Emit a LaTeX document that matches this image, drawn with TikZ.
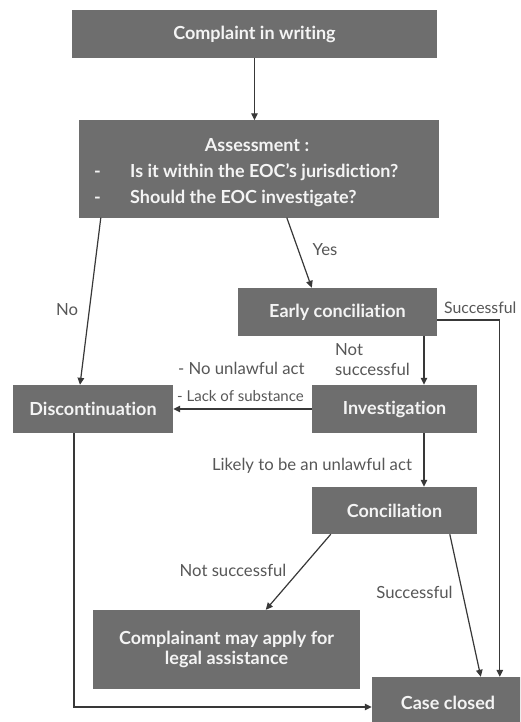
\documentclass[tikz,border=0pt]{standalone}
\usepackage{fontspec}
\setmainfont{Lato}[Ligatures=NoCommon]
\usetikzlibrary{arrows.meta,calc}
\definecolor{boxgray}{HTML}{6E6E6E}
\definecolor{labelgray}{HTML}{575757}
\definecolor{linegray}{HTML}{383838}
\definecolor{boxtext}{HTML}{F4F4F4}
\begin{document}
\begin{tikzpicture}[x=1pt,y=-1pt,
  box/.style={fill=boxgray, draw=none, text=boxtext, font=\bfseries\fontsize{18}{20}\selectfont, inner sep=0pt, align=center},
  boxtxt/.style={text=boxtext, font=\bfseries\fontsize{18}{20}\selectfont, inner sep=0pt},
  lbl/.style={text=labelgray, font=\fontsize{16.7}{20}\selectfont, inner sep=0pt},
  arr/.style={draw=linegray, line width=1.2pt, -{Triangle[length=7pt,width=6.5pt]}}]
\clip (0,0) rectangle (520,722);
\fill[white] (0,0) rectangle (520,722);

% boxes
\node[box, minimum width=365pt, minimum height=48pt] (complaint) at (254.5,34) {Complaint in writing};
\node[box, minimum width=360pt, minimum height=97pt] (assess) at (259,169) {};
\node[boxtxt] (assesstitle) at (257,145) {Assessment :};
\node[boxtxt, anchor=west, align=left] (assesslist) at (94,185) {\def\arraystretch{1.3}\begin{tabular}{@{}p{36pt}@{}l@{}}-&Is it within the EOC’s jurisdiction?\\-&Should the EOC investigate?\end{tabular}};
\node[box, minimum width=199pt, minimum height=48pt] (early) at (337.5,312) {Early conciliation};
\node[box, minimum width=165pt, minimum height=48pt] (inv) at (394.5,409) {Investigation};
\node[box, minimum width=160pt, minimum height=48pt] (disc) at (93,409) {Discontinuation};
\node[box, minimum width=165pt, minimum height=47pt] (conc) at (394.5,510.5) {Conciliation};
\node[box, minimum width=267pt, minimum height=79pt] (compl) at (226.5,649.5) {Complainant may apply for\\legal assistance};
\node[box, minimum width=152pt, minimum height=52pt] (closed) at (448,703) {Case closed};

% labels
\node[lbl] (lno) at (67,310) {No};
\node[lbl] (lyes) at (325,250) {Yes};
\node[lbl, anchor=west, font=\fontsize{15.8}{20}\selectfont] (lsucc1) at (444,308) {Successful};
\node[lbl, anchor=west, align=left] (lnotsucc1) at (335,360) {Not\\successful};
\node[lbl, anchor=west] (lnounl) at (178,368) {- No unlawful act};
\node[lbl, anchor=west, font=\fontsize{15}{20}\selectfont] (llack) at (177,396) {- Lack of substance};
\node[lbl] (llikely) at (312,466) {Likely to be an unlawful act};
\node[lbl] (lnotsucc2) at (233,570) {Not successful};
\node[lbl] (lsucc2) at (414.5,592) {Successful};

% connectors
\draw[arr] (complaint.south) -- (complaint.south |- assess.north);
\draw[arr] ($(assess.south west)+(22,0)$) -- ($(disc.north)+(-13,0)$);
\draw[arr] ($(assess.south west)+(208,0)$) -- ($(early.north west)+(74,0)$);
\draw[arr] ($(early.east)+(0,8)$) -| ($(closed.north west)+(128,0)$);
\coordinate (ns) at ($(inv.north)+(29.5,0)$);
\draw[arr] (ns |- early.south) -- (ns);
\draw[arr] (inv.west) -- (disc.east);
\draw[arr] (inv.south -| ns) -- (conc.north -| ns);
\draw[arr] ($(conc.south west)+(19,0)$) -- ($(compl.north west)+(173,0)$);
\draw[arr] ($(conc.south west)+(138,0)$) -- ($(closed.north west)+(109,0)$);
\draw[arr] ($(disc.south)+(-19,0)$) |- ($(closed.west)+(0,4)$);
\end{tikzpicture}
\end{document}
